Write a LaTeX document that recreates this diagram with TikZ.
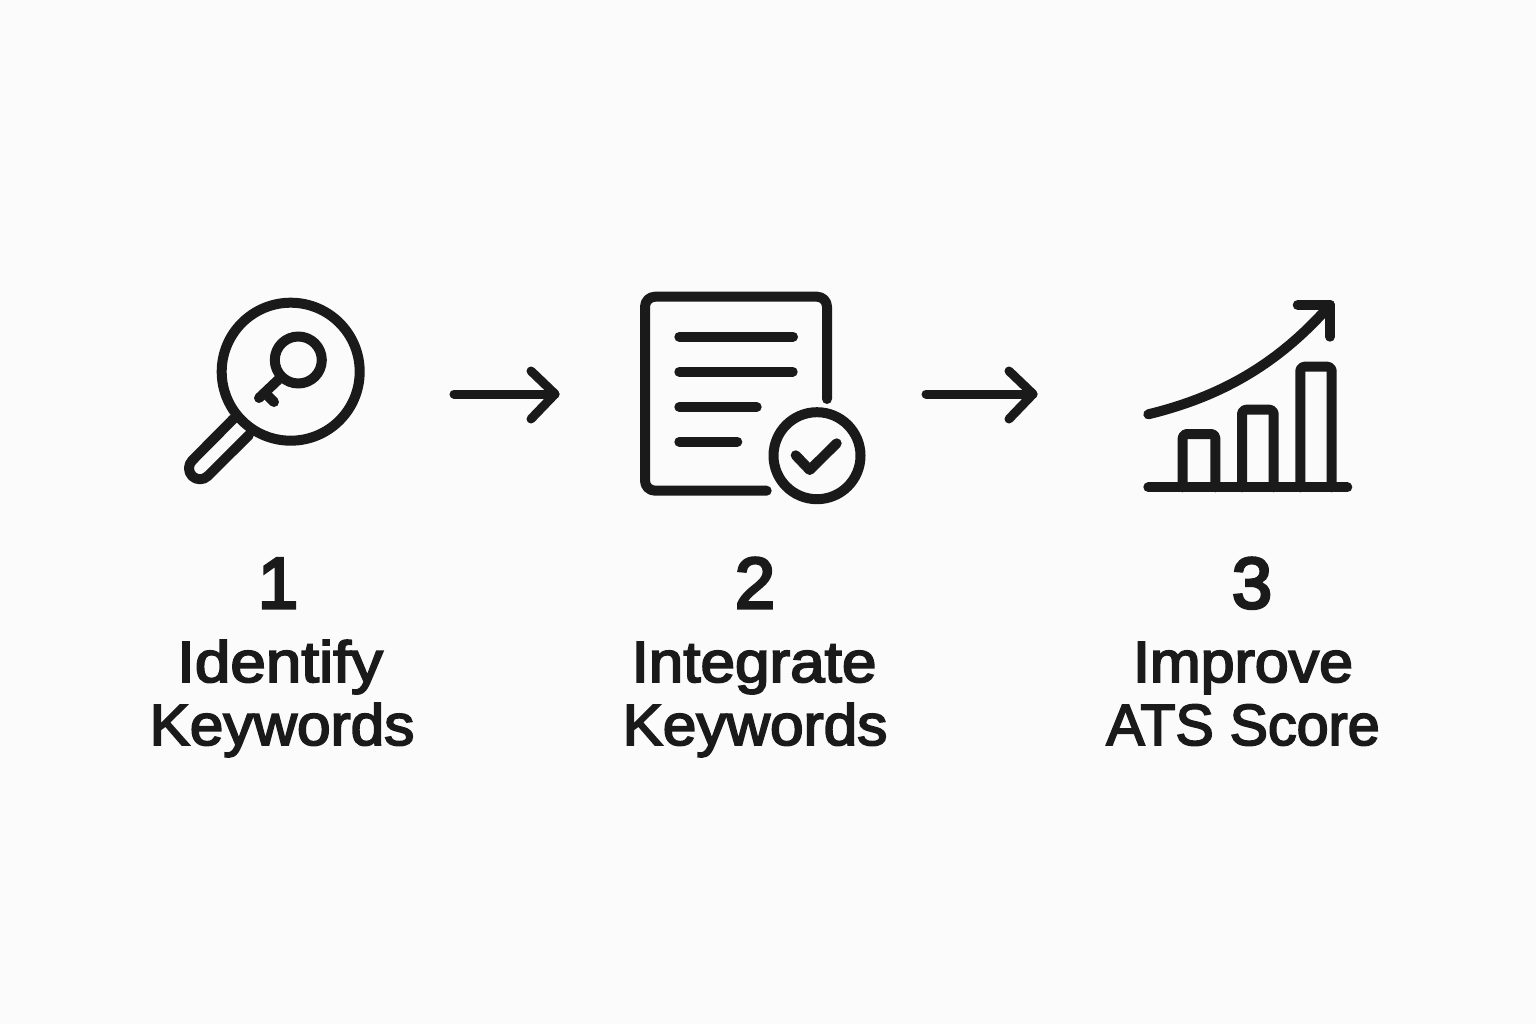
\documentclass[tikz,border=0pt]{standalone}
\usepackage{fontspec}
\usepackage{graphicx}
\setmainfont{Liberation Sans}
\newfontfamily\lblfont{Liberation Sans}
\newcommand{\heavy}[2]{\scalebox{#1}[1]{\special{pdf:code 2 Tr 1.8 w}#2\special{pdf:code 0 Tr}}}
\newcommand{\heavynum}[1]{\special{pdf:code 2 Tr 3 w}#1\special{pdf:code 0 Tr}}
\definecolor{ink}{HTML}{1A1A1A}
\definecolor{paper}{HTML}{FBFBFB}
\tikzset{
  x=1pt,y=-1pt,
  icon/.style={draw=ink,line width=10pt,line cap=round,line join=round},
  lbl/.style={text=ink,font=\lblfont\fontsize{58}{58}\selectfont,inner sep=0pt,anchor=base},
  num/.style={lbl,font=\lblfont\fontsize{72}{72}\selectfont},
}
\begin{document}
\begin{tikzpicture}
\path[use as bounding box,fill=paper] (0,0) rectangle (1536,1024);
% magnifier
\draw[icon] (290.7,371.7) circle[radius=69];
\draw[icon] (298.3,360) circle[radius=23.5];
\draw[icon] (278,380) -- (259,398);
\draw[icon] (265,393) -- (274,402);
\draw[icon] (233.3,419) -- (192.2,460.5) arc[start angle=225,end angle=45,radius=11] -- (249,435);
% document
\draw[icon] (766.7,490.7) -- (655,490.7) arc[start angle=90,end angle=180,radius=10] -- (645,306.7) arc[start angle=180,end angle=270,radius=10] -- (817,296.7) arc[start angle=270,end angle=360,radius=10] -- (827,399);
\draw[icon] (679.3,336.7) -- (793,336.7);
\draw[icon] (679.3,371.7) -- (792.7,371.7);
\draw[icon] (679.3,407) -- (756.7,407);
\draw[icon] (679.3,441.7) -- (737.3,441.7);
\draw[icon] (817,455.7) circle[radius=43.5];
\draw[icon] (795.7,455.3) -- (809.7,470) -- (836.7,443.3);
% chart
\draw[icon] (1148.3,487.3) -- (1347.3,487.3);
\draw[icon,rounded corners=4pt] (1182.7,487.3) -- (1182.7,434) -- (1215.3,434) -- (1215.3,487.3);
\draw[icon,rounded corners=4pt] (1242,487.3) -- (1242,409.7) -- (1273.7,409.7) -- (1273.7,487.3);
\draw[icon,rounded corners=4pt] (1300.3,487.3) -- (1300.3,366.7) -- (1331.7,366.7) -- (1331.7,487.3);
\draw[icon] (1148.3,414.3) .. controls (1215,398) and (1275,368) .. (1330,305);
\draw[icon] (1297.7,305) -- (1330,305) -- (1330,336.7);
% arrows
\coordinate (a1s) at (454,394); \coordinate (a1e) at (555,394);
\coordinate (a2s) at (926,394); \coordinate (a2e) at (1033,394);
\draw[icon,line width=9pt] (a1s) -- (a1e);
\draw[icon,line width=9pt] (531,371) -- (a1e) -- (531,419);
\draw[icon,line width=9pt] (a2s) -- (a2e);
\draw[icon,line width=9pt] (1009,371) -- (a2e) -- (1009,419);
% labels
\node[num] (n1) at (278,608) {\heavynum{1}};
\node[num] (n2) at (755,608) {\heavynum{2}};
\node[num] (n3) at (1252,608) {\heavynum{3}};
\node[lbl] (t1a) at (280,682) {\heavy{1.1}{Identify}};
\node[lbl] (t1b) at (282,745) {\heavy{1.04}{Keywords}};
\node[lbl] (t2a) at (754,682) {\heavy{1.07}{Integrate}};
\node[lbl] (t2b) at (755,745) {\heavy{1.04}{Keywords}};
\node[lbl] (t3a) at (1243,682) {\heavy{1.05}{Improve}};
\node[lbl] (t3b) at (1243,745) {\heavy{0.99}{ATS Score}};
\end{tikzpicture}
\end{document}
